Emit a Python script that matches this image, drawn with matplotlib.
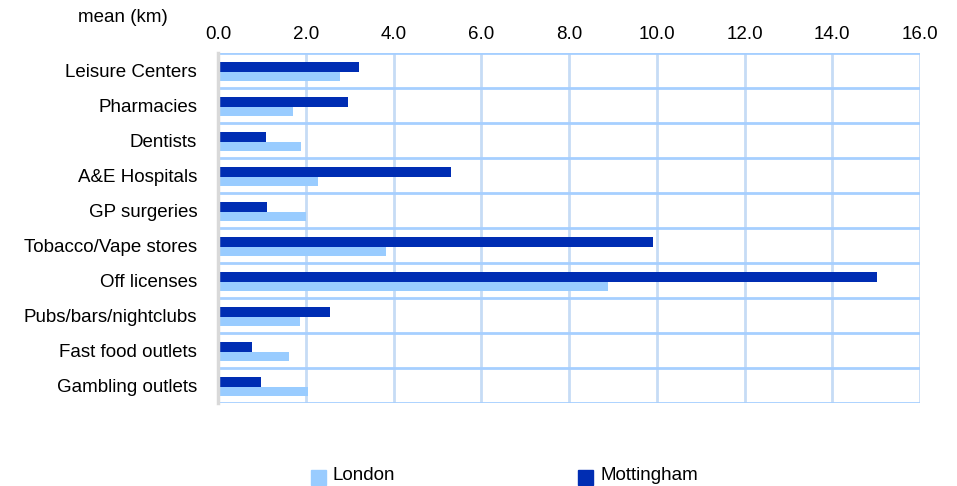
import matplotlib
matplotlib.use("Agg")
import matplotlib.pyplot as plt
import numpy as np

categories = ["Leisure Centers", "Pharmacies", "Dentists", "A&E Hospitals", "GP surgeries",
              "Tobacco/Vape stores", "Off licenses", "Pubs/bars/nightclubs",
              "Fast food outlets", "Gambling outlets"]
london = [2.78, 1.71, 1.89, 2.28, 2.00, 3.83, 8.90, 1.87, 1.62, 2.05]
mottingham = [3.21, 2.96, 1.09, 5.31, 1.12, 9.91, 15.03, 2.55, 0.77, 0.98]
xticks = [0, 2, 4, 6, 8, 10, 12, 14, 16]
xtick_labels = ["0.0", "2.0", "4.0", "6.0", "8.0", "10.0", "12.0", "14.0", "16.0"]

plt.rcParams['font.family'] = ['Liberation Sans', 'DejaVu Sans']
FS = 13.5

fig = plt.figure(figsize=(9.57, 4.86), dpi=100)
ax = fig.add_axes([218/957, 1-403/486, (920-218)/957, (403-53)/486])

y = np.arange(len(categories))
h = 0.28
dark = "#002DB3"
light = "#99CCFF"
ax.barh(y - 0.10, mottingham, height=h, color=dark, zorder=3)
ax.barh(y + 0.17, london, height=h, color=light, zorder=3)

ax.set_xlim(0, 16)
ax.set_ylim(len(categories) - 0.5, -0.5)
ax.xaxis.tick_top()
ax.set_xticks(xticks)
ax.set_xticklabels(xtick_labels, fontsize=FS)
ax.set_yticks(y)
ax.set_yticklabels(categories, fontsize=FS)
ax.tick_params(axis='both', length=0)
ax.tick_params(axis='x', pad=7)
ax.tick_params(axis='y', pad=15)

for v in xticks[1:]:
    ax.axvline(v, color="#C6DCF5", lw=2, zorder=1)
for b in np.arange(-0.5, len(categories), 1.0):
    ax.axhline(b, color="#A6CFFF", lw=2, zorder=2)

for s in ["top", "right", "bottom"]:
    ax.spines[s].set_visible(False)
ax.spines["left"].set_color("#D9D9D9")
ax.spines["left"].set_linewidth(2.5)
ax.spines["left"].set_zorder(4)

fig.text(78/957, 1-17/486, "mean (km)", fontsize=FS, ha="left", va="center")

# legend
fig.patches.append(matplotlib.patches.Rectangle((311/957, 1/486), 15/957, 15/486,
                                                 transform=fig.transFigure, color=light))
fig.text(333/957, 1-475/486, "London", fontsize=FS, ha="left", va="center")
fig.patches.append(matplotlib.patches.Rectangle((578/957, 1/486), 15/957, 15/486,
                                                 transform=fig.transFigure, color=dark))
fig.text(600/957, 1-475/486, "Mottingham", fontsize=FS, ha="left", va="center")

fig.savefig("out.png", dpi=100)
